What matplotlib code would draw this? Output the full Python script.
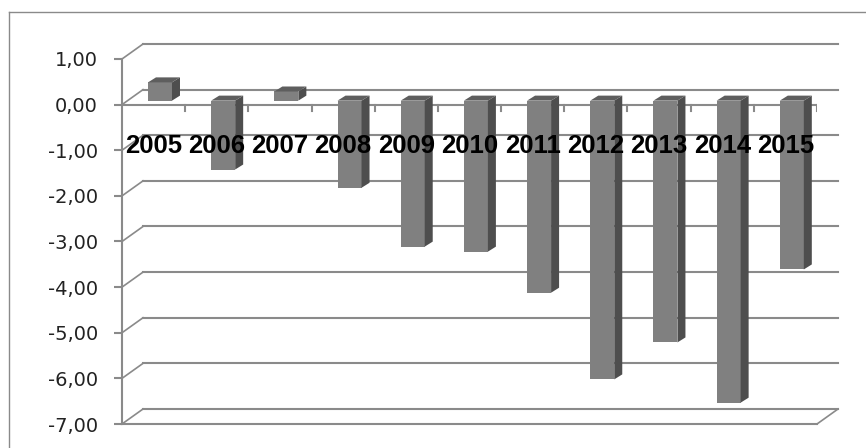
import matplotlib
matplotlib.use("Agg")
import matplotlib.pyplot as plt
from matplotlib.patches import Polygon
from matplotlib.lines import Line2D

# Data
years = ["2005", "2006", "2007", "2008", "2009", "2010",
         "2011", "2012", "2013", "2014", "2015"]
values = [0.40, -1.51, 0.20, -1.91, -3.20, -3.31,
          -4.21, -6.11, -5.30, -6.62, -3.70]
y_ticks = [1, 0, -1, -2, -3, -4, -5, -6, -7]
y_labels = ["1,00", "0,00", "-1,00", "-2,00", "-3,00",
            "-4,00", "-5,00", "-6,00", "-7,00"]

grid_col = "#8a8a8a"
front_col = "#808080"
side_col = "#4e4e4e"
top_col = "#5e5e5e"

W, H = 866, 448
fig = plt.figure(figsize=(W / 100, H / 100), dpi=100)

# front plane of the pseudo 3D box, in pixels: x 122..817, y 59..424
ax = fig.add_axes([122 / W, 1 - 424 / H, (817 - 122) / W, (424 - 59) / H])
ax.set_xlim(0, len(years))
ax.set_ylim(-7, 1)

# oblique depth offsets (data units)
px_x = (817 - 122) / len(years)
px_y = (424 - 59) / 8.0
wall_dx, wall_dy = 21 / px_x, 15 / px_y
bar_off_x, bar_off_y = 6.4 / px_x, 4 / px_y
bar_dx, bar_dy = 8 / px_x, 5 / px_y
bar_w = 24 / px_x

# spines / ticks
for s in ["top", "right"]:
    ax.spines[s].set_visible(False)
for s in ["left", "bottom"]:
    ax.spines[s].set_color(grid_col)
    ax.spines[s].set_linewidth(1.5)
ax.set_xticks([])
ax.set_yticks(y_ticks)
ax.set_yticklabels(y_labels, fontsize=14, family="DejaVu Sans", color="#222222")
ax.tick_params(axis="y", length=5.8, width=1.5, color=grid_col, pad=11.5)
ax.patch.set_alpha(0)

# back wall gridlines and left wall diagonals
for v in y_ticks:
    ax.plot([wall_dx, len(years) + wall_dx], [v + wall_dy, v + wall_dy],
            color=grid_col, lw=1.5, clip_on=False, zorder=1)
    ax.plot([0, wall_dx], [v, v + wall_dy], color=grid_col, lw=1.2,
            clip_on=False, zorder=1)
# floor right edge
ax.plot([len(years), len(years) + wall_dx], [-7, -7 + wall_dy],
        color=grid_col, lw=1.2, clip_on=False, zorder=1)

# category axis at zero with tick marks
ax.plot([0, len(years)], [0, 0], color=grid_col, lw=1.5, zorder=2)
for i in range(1, len(years) + 1):
    ax.plot([i, i], [0, -6 / px_y], color=grid_col, lw=1.5, zorder=2)

# bars
for i, v in enumerate(values):
    x0 = i + 0.5 - bar_w / 2 + bar_off_x
    x1 = x0 + bar_w
    y0 = bar_off_y
    lo, hi = min(y0, y0 + v), max(y0, y0 + v)
    front = Polygon([(x0, lo), (x1, lo), (x1, hi), (x0, hi)],
                    closed=True, fc=front_col, ec="none", zorder=3)
    side = Polygon([(x1, lo), (x1 + bar_dx, lo + bar_dy),
                    (x1 + bar_dx, hi + bar_dy), (x1, hi)],
                   closed=True, fc=side_col, ec="none", zorder=3)
    top = Polygon([(x0, hi), (x1, hi), (x1 + bar_dx, hi + bar_dy),
                   (x0 + bar_dx, hi + bar_dy)],
                  closed=True, fc=top_col, ec="none", zorder=3)
    for p in (front, side, top):
        ax.add_patch(p)

# category labels
for i, yr in enumerate(years):
    ax.text(i + 0.5, -48 / px_y, yr, ha="center", va="baseline",
            fontsize=18.5, fontweight="bold", family="Liberation Sans",
            color="black", zorder=5)

# outer chart border (left and top only visible)
fig.add_artist(Line2D([8.5 / W, 8.5 / W], [0, 1 - 12 / H],
                      color=grid_col, lw=1.0))
fig.add_artist(Line2D([8.5 / W, 1], [1 - 12 / H, 1 - 12 / H],
                      color=grid_col, lw=1.0))

fig.savefig("out.png", dpi=100, facecolor="white")
